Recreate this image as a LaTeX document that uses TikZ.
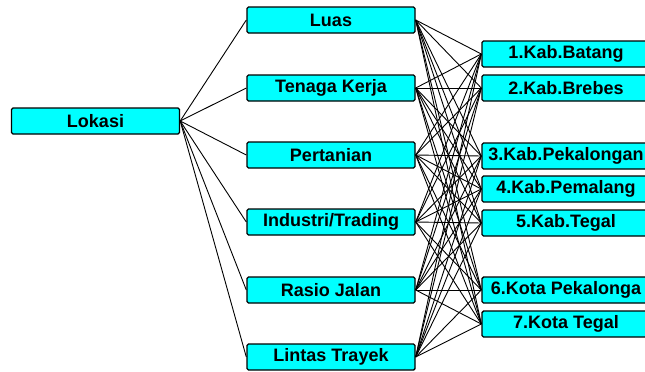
\documentclass[tikz,border=0pt]{standalone}
\usepackage{fontspec}
\setmainfont{Liberation Sans}
\definecolor{boxcyan}{RGB}{0,255,255}
\begin{document}
\begin{tikzpicture}[x=1pt,y=-1pt,
  box/.style={draw=black,line width=1.4pt,fill=boxcyan,rounded corners=1.5pt,
    minimum width=168pt,minimum height=26pt,inner sep=0pt,
    font=\fontsize{18}{20}\selectfont\bfseries},
  link/.style={line width=0.9pt,black}]
\useasboundingbox (0,0) rectangle (645,372);
\clip (0,0) rectangle (645,372);
\fill[white] (0,0) rectangle (645,372);
\node[box] (lok) at (95.5,121) {Lokasi};
\node[box] (m1) at (331,20) {Luas};
\node[box] (m2) at (331,88) {Tenaga Kerja};
\node[box] (m3) at (331,155) {Pertanian};
\node[box] (m4) at (331,222) {Industri/Trading};
\node[box] (m5) at (331,290) {Rasio Jalan};
\node[box] (m6) at (331,357) {Lintas Trayek};
\node[box] (r1) at (566,54) {1.Kab.Batang};
\node[box] (r2) at (566,88) {2.Kab.Brebes};
\node[box] (r3) at (566,156) {3.Kab.Pekalongan};
\node[box] (r4) at (566,189) {4.Kab.Pemalang};
\node[box] (r5) at (566,223) {5.Kab.Tegal};
\node[box] (r6) at (566,290) {6.Kota Pekalonga};
\node[box] (r7) at (566,324) {7.Kota Tegal};
\foreach \m in {m1,m2,m3,m4,m5,m6}{
  \draw[link] (lok.east) -- (\m.west);
  \foreach \r in {r1,r2,r3,r4,r5,r6,r7}{
    \draw[link] (\m.east) -- (\r.west);
  }
}
\end{tikzpicture}
\end{document}
